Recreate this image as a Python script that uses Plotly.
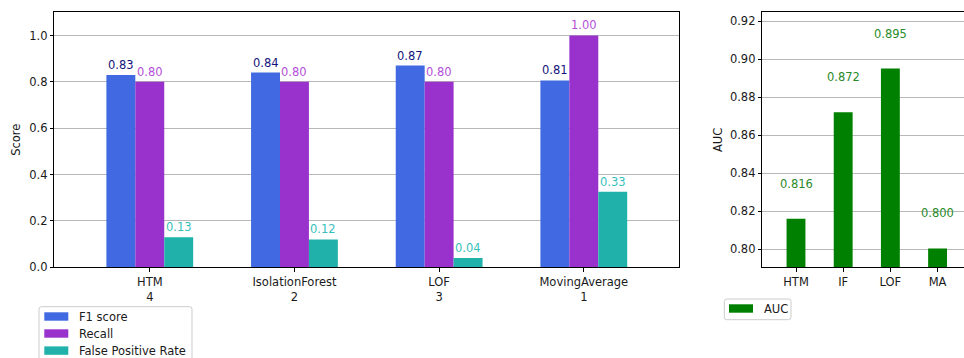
import numpy as np
import plotly.graph_objects as go

# ---- data ----
methods = ["HTM", "IsolationForest", "LOF", "MovingAverage"]
ranks = ["4", "2", "3", "1"]
f1_score = [0.83, 0.84, 0.87, 0.806]
recall = [0.80, 0.80, 0.80, 1.00]
false_pos_rate = [0.13, 0.12, 0.04, 0.326]

auc_labels = ["HTM", "IF", "LOF", "MA"]
auc_values = [0.816, 0.872, 0.895, 0.8004]

score_ticks = [0.0, 0.2, 0.4, 0.6, 0.8, 1.0]
auc_ticks = [0.80, 0.82, 0.84, 0.86, 0.88, 0.90, 0.92]

# ---- style ----
W, H = 964, 358
FONT = "DejaVu Sans"
FS = 11.5
TXT = "#1a1a1a"
series = [
    ("F1 score", f1_score, "#4169E1", "#14147a", -0.2),
    ("Recall", recall, "#9932CC", "#B450D8", 0.0),
    ("False Positive Rate", false_pos_rate, "#20B2AA", "#36BFBA", 0.2),
]
AUC_BAR = "#008000"
AUC_TXT = "#2a8a2a"


def px_x(p):
    return p / W


def px_y(p):
    return 1 - p / H


fig = go.Figure()
annotations = []
x_idx = np.arange(len(methods))

for name, vals, color, tcolor, off in series:
    fig.add_trace(go.Bar(
        x=x_idx + off, y=vals, width=0.2, name=name,
        marker=dict(color=color, line=dict(width=0)),
        xaxis="x", yaxis="y", showlegend=False,
    ))
    for xi, v in zip(x_idx + off, vals):
        annotations.append(dict(
            x=xi, y=v, xref="x", yref="y", text=f"{v:.2f}",
            showarrow=False, yanchor="middle", yshift=10,
            font=dict(family=FONT, size=FS, color=tcolor),
        ))

auc_idx = np.arange(len(auc_labels))
fig.add_trace(go.Bar(
    x=auc_idx, y=auc_values, width=0.4, name="AUC",
    marker=dict(color=AUC_BAR, line=dict(width=0)),
    xaxis="x2", yaxis="y2", showlegend=False,
))
for xi, v in zip(auc_idx, auc_values):
    annotations.append(dict(
        x=xi, y=v, xref="x2", yref="y2", text=f"{v:.3f}",
        showarrow=False, yanchor="middle", yshift=35,
        font=dict(family=FONT, size=FS, color=AUC_TXT),
    ))

# axis titles
annotations.append(dict(
    x=px_x(16), y=px_y(139.8), xref="paper", yref="paper", text="Score",
    textangle=-90, showarrow=False, xanchor="center", yanchor="middle",
    font=dict(family=FONT, size=FS, color=TXT),
))
annotations.append(dict(
    x=px_x(717.3), y=px_y(139.8), xref="paper", yref="paper", text="AUC",
    textangle=-90, showarrow=False, xanchor="center", yanchor="middle",
    font=dict(family=FONT, size=FS, color=TXT),
))

# legends drawn as boxes with colour patches
shapes = []


def legend_box(x0, y0, x1, y1, r=2.5):
    X0, X1 = px_x(x0), px_x(x1)
    path = (f"M {x0 + r},{y0} L {x1 - r},{y0} Q {x1},{y0} {x1},{y0 + r} "
            f"L {x1},{y1 - r} Q {x1},{y1} {x1 - r},{y1} L {x0 + r},{y1} "
            f"Q {x0},{y1} {x0},{y1 - r} L {x0},{y0 + r} Q {x0},{y0} {x0 + r},{y0} Z")
    # convert pixel path to paper coordinates
    tokens = path.split()
    out = []
    for t in tokens:
        if "," in t:
            a, b = t.split(",")
            out.append(f"{px_x(float(a)):.6f},{px_y(float(b)):.6f}")
        else:
            out.append(t)
    shapes.append(dict(type="path", xref="paper", yref="paper", path=" ".join(out),
                       fillcolor="rgba(255,255,255,0.8)",
                       line=dict(color="#cccccc", width=1), layer="above"))


def legend_item(px0, py_center, color, label):
    shapes.append(dict(type="rect", xref="paper", yref="paper",
                       x0=px_x(px0), x1=px_x(px0 + 24),
                       y0=px_y(py_center - 4.2), y1=px_y(py_center + 4.2),
                       fillcolor=color, line=dict(width=0), layer="above"))
    annotations.append(dict(x=px_x(px0 + 33), y=px_y(py_center), xref="paper", yref="paper",
                            text=label, showarrow=False, xanchor="left", yanchor="middle",
                            font=dict(family=FONT, size=FS, color=TXT)))


legend_box(39, 306.7, 192, 370)
for (name, _, color, _, _), yc in zip(series, [316.5, 333.5, 350.6]):
    legend_item(44.3, yc, color, name)

legend_box(724.3, 299, 791, 319.7)
legend_item(729, 308.5, AUC_BAR, "AUC")

ydom = [px_y(267.3), px_y(12.3)]
axis_common = dict(
    showline=True, linecolor="black", linewidth=1,
    ticks="outside", ticklen=3.5, tickwidth=1, tickcolor="black",
    tickfont=dict(family=FONT, size=FS, color=TXT),
    zeroline=False, automargin=False,
)

fig.update_layout(
    width=W, height=H,
    margin=dict(l=0, r=0, t=0, b=0),
    paper_bgcolor="white", plot_bgcolor="white",
    barmode="overlay",
    font=dict(family=FONT, size=FS, color=TXT),
    xaxis=dict(domain=[px_x(54.3), px_x(679.3)], range=[-0.66, 3.66],
               tickvals=list(x_idx),
               ticktext=[f"{m}<br>{r}" for m, r in zip(methods, ranks)],
               showgrid=False, mirror=True, anchor="y", **axis_common),
    yaxis=dict(domain=ydom, range=[0, 1.1], tickvals=score_ticks, tickformat=".1f",
               showgrid=True, gridcolor="#b8b8b8", gridwidth=1,
               mirror=True, anchor="x", **axis_common),
    xaxis2=dict(domain=[px_x(762.3), 1.0], range=[-0.714, 3.56],
                tickvals=list(auc_idx), ticktext=auc_labels,
                showgrid=False, mirror=True, anchor="y2", **axis_common),
    yaxis2=dict(domain=ydom, range=[0.7905, 0.9246], tickvals=auc_ticks, tickformat=".2f",
                showgrid=True, gridcolor="#b8b8b8", gridwidth=1,
                mirror=False, anchor="x2", **axis_common),
    annotations=annotations,
    shapes=shapes,
    showlegend=False,
)

fig.write_html("out.html")
